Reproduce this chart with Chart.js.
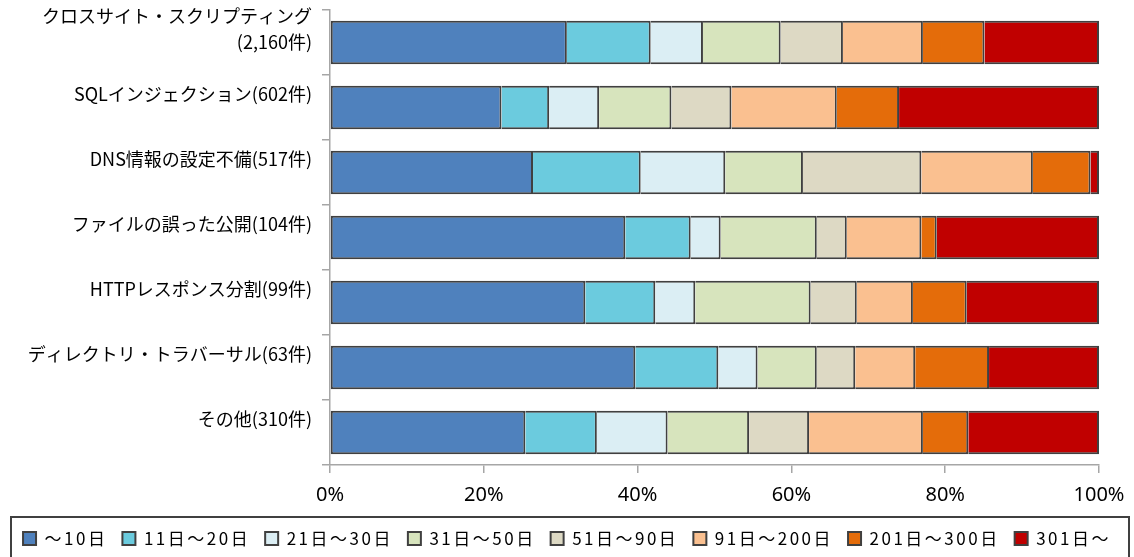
<!DOCTYPE html>
<html lang="ja">
<head>
<meta charset="utf-8">
<title>脆弱性の種類別 修正完了までの日数</title>
<script src="https://cdn.jsdelivr.net/npm/chart.js@4/dist/chart.umd.min.js"></script>
<style>
  html, body { margin: 0; padding: 0; background: #ffffff; }
  #wrap { position: relative; width: 1134px; height: 557px; }
</style>
</head>
<body>
<div id="wrap"><canvas id="chart" width="1134" height="557"></canvas></div>
<script>
// Vulnerability categories (row labels), top to bottom
const categories = [
  ["クロスサイト・スクリプティング", "(2,160件)"],
  "SQLインジェクション(602件)",
  "DNS情報の設定不備(517件)",
  "ファイルの誤った公開(104件)",
  "HTTPレスポンス分割(99件)",
  "ディレクトリ・トラバーサル(63件)",
  "その他(310件)"
];

// Days-to-fix bands (legend order)
const bandNames = [
  "～10日", "11日～20日", "21日～30日", "31日～50日",
  "51日～90日", "91日～200日", "201日～300日", "301日～"
];

// Share of each band per category (%)
const upTo10       = [30.8, 22.3, 26.4, 38.4, 33.2, 39.7, 25.4];
const days11to20   = [10.9,  6.2, 14.0,  8.5,  9.1, 10.8,  9.3];
const days21to30   = [ 6.8,  6.5, 11.0,  3.9,  5.2,  5.1,  9.2];
const days31to50   = [10.1,  9.4, 10.1, 12.5, 15.0,  7.7, 10.6];
const days51to90   = [ 8.1,  7.8, 15.4,  3.9,  6.0,  5.0,  7.8];
const days91to200  = [10.4, 13.7, 14.5,  9.7,  7.3,  7.8, 14.8];
const days201to300 = [ 8.0,  8.1,  7.5,  2.0,  7.0,  9.6,  5.9];
const over301      = [14.9, 26.0,  1.1, 21.1, 17.2, 14.3, 17.0];

// Percentage axis ticks
const xTicks = [0, 20, 40, 60, 80, 100];

const bandColors = [
  "#4F81BD", "#6BCBDE", "#DBEEF4", "#D7E4BD",
  "#DDD9C4", "#FAC090", "#E46C0A", "#C00000"
];
const bandValues = [upTo10, days11to20, days21to30, days31to50,
                    days51to90, days91to200, days201to300, over301];

const datasets = bandNames.map((name, i) => ({
  label: name,
  data: bandValues[i],
  backgroundColor: bandColors[i],
  borderColor: "#404040",
  borderWidth: 2,
  borderSkipped: i === 0 ? false : "start",
  barPercentage: 0.67,
  categoryPercentage: 1.0
}));

// Legend: wider character spacing, always kept on a single row
const legendSpacing = {
  id: "legendSpacing",
  beforeLayout(chart) {
    const lg = chart.legend;
    if (!lg || lg._spaced) return;
    lg._spaced = true;
    const origFit = lg.fit;
    const origDraw = lg.draw;
    lg.fit = function (...args) {
      const ctx = this.ctx;
      const prev = ctx.letterSpacing;
      ctx.letterSpacing = "2.5px";
      const mw = this.maxWidth;
      this.maxWidth = 5000;
      const r = origFit.apply(this, args);
      this.maxWidth = mw;
      this.width = mw;
      ctx.letterSpacing = prev || "0px";
      return r;
    };
    lg.draw = function (...args) {
      const ctx = this.ctx;
      const prev = ctx.letterSpacing;
      ctx.letterSpacing = "2.5px";
      const r = origDraw.apply(this, args);
      ctx.letterSpacing = prev || "0px";
      return r;
    };
  }
};

// Frame around the legend row
const legendFrame = {
  id: "legendFrame",
  afterDraw(chart) {
    const lg = chart.legend;
    if (!lg) return;
    const ctx = chart.ctx;
    ctx.save();
    ctx.strokeStyle = "#404040";
    ctx.lineWidth = 2;
    ctx.strokeRect(11, lg.top + 2, 1118, 60);
    ctx.restore();
  }
};

Chart.defaults.font.family = "'Noto Sans CJK JP', 'Noto Sans', sans-serif";
Chart.defaults.color = "#000000";

new Chart(document.getElementById("chart"), {
  type: "bar",
  data: { labels: categories, datasets },
  options: {
    indexAxis: "y",
    responsive: false,
    animation: false,
    layout: { padding: { top: 10, right: 0, bottom: 0, left: 0 } },
    plugins: {
      legend: {
        position: "bottom",
        labels: {
          font: { size: 17, family: "'Noto Sans CJK JP', sans-serif" },
          color: "#000000",
          boxWidth: 13,
          boxHeight: 13,
          padding: 15
        }
      },
      tooltip: { enabled: false }
    },
    scales: {
      x: {
        stacked: true,
        min: 0,
        max: 100,
        afterBuildTicks(scale) {
          scale.ticks = xTicks.map(v => ({ value: v }));
        },
        afterFit(scale) {
          scale.height = 50;
          scale.paddingRight = 35;
          scale.paddingLeft = 0;
        },
        grid: {
          drawOnChartArea: false,
          tickLength: 8,
          color: "#A6A6A6",
          lineWidth: 1.5
        },
        border: { color: "#A6A6A6", width: 1.5 },
        ticks: {
          font: { size: 20, family: "'Noto Sans', sans-serif" },
          color: "#000000",
          padding: 10,
          maxRotation: 0,
          callback: v => v + "%"
        }
      },
      y: {
        stacked: true,
        offset: true,
        afterFit(scale) {
          scale.width = 330;
          scale.paddingTop = 0;
          scale.paddingBottom = 0;
        },
        grid: {
          offset: true,
          drawOnChartArea: false,
          tickLength: 8,
          color: "#A6A6A6",
          lineWidth: 1.5
        },
        border: { color: "#A6A6A6", width: 1.5 },
        ticks: {
          font: { size: 18, lineHeight: 1.45 },
          color: "#000000",
          padding: 10,
          labelOffset: -13,
          autoSkip: false
        }
      }
    }
  },
  plugins: [legendSpacing, legendFrame]
});
</script>
</body>
</html>
